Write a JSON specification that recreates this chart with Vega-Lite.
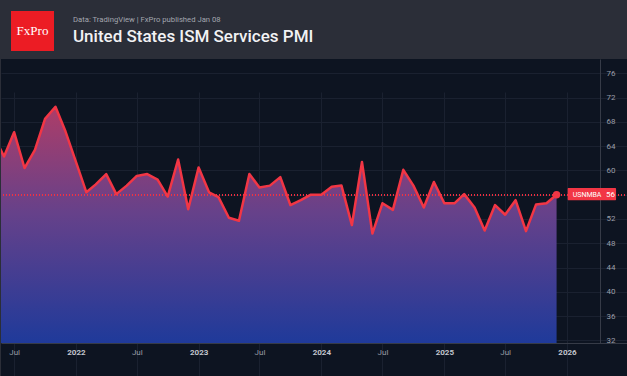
{
  "$schema": "https://vega.github.io/schema/vega-lite/v6.json",
  "background": "#2b2e38",
  "padding": {"top": 11, "left": 0, "right": 0, "bottom": 0},
  "bounds": "flush",
  "spacing": 48,
  "config": {"view": {"stroke": null}, "font": "Roboto", "axis": {"labelOverlap": false}, "axisY": {"labelOverlap": false}},
  "vconcat": [
    {
      "spacing": 0,
      "hconcat": [
        {"width": 10, "height": 40, "data": {"values": []}, "mark": "point"},
        {
          "width": 43,
          "height": 40,
          "view": {"fill": "#ec1c24", "stroke": null},
          "data": {"values": [{"logo": "FxPro"}]},
          "mark": {"type": "text", "font": "Liberation Serif", "fontSize": 13, "color": "#ffffff", "baseline": "middle", "align": "center"},
          "encoding": {"text": {"field": "logo"}}
        }
      ]
    },
    {
      "width": 627,
      "height": 317,
      "view": {"fill": "#0d1421", "stroke": null},
      "title": {
        "text": "Data: TradingView  |  FxPro published Jan 08",
        "subtitle": "United States ISM Services PMI",
        "anchor": "start",
        "orient": "top",
        "frame": "group",
        "dx": 72,
        "offset": 14,
        "font": "Roboto",
        "fontSize": 7.7,
        "fontWeight": "normal",
        "color": "#a3a6af",
        "subtitleFont": "Roboto",
        "subtitleFontSize": 17,
        "subtitleFontWeight": 500,
        "subtitleColor": "#f2f2f4",
        "subtitlePadding": 5
      },
      "data": {
        "values": [
          {"date": "2021-05-01", "value": 65.8},
          {"date": "2021-06-01", "value": 62.3},
          {"date": "2021-07-01", "value": 66.3},
          {"date": "2021-08-01", "value": 60.4},
          {"date": "2021-09-01", "value": 63.4},
          {"date": "2021-10-01", "value": 68.5},
          {"date": "2021-11-01", "value": 70.5},
          {"date": "2021-12-01", "value": 66.4},
          {"date": "2022-01-01", "value": 61.4},
          {"date": "2022-02-01", "value": 56.4},
          {"date": "2022-03-01", "value": 57.7},
          {"date": "2022-04-01", "value": 59.4},
          {"date": "2022-05-01", "value": 56.1},
          {"date": "2022-06-01", "value": 57.5},
          {"date": "2022-07-01", "value": 59.1},
          {"date": "2022-08-01", "value": 59.4},
          {"date": "2022-09-01", "value": 58.5},
          {"date": "2022-10-01", "value": 55.7},
          {"date": "2022-11-01", "value": 61.8},
          {"date": "2022-12-01", "value": 53.6},
          {"date": "2023-01-01", "value": 60.5},
          {"date": "2023-02-01", "value": 56.4},
          {"date": "2023-03-01", "value": 55.6},
          {"date": "2023-04-01", "value": 52.2},
          {"date": "2023-05-01", "value": 51.7},
          {"date": "2023-06-01", "value": 59.4},
          {"date": "2023-07-01", "value": 57.2},
          {"date": "2023-08-01", "value": 57.5},
          {"date": "2023-09-01", "value": 58.9},
          {"date": "2023-10-01", "value": 54.3},
          {"date": "2023-11-01", "value": 55.1},
          {"date": "2023-12-01", "value": 56.0},
          {"date": "2024-01-01", "value": 56.0},
          {"date": "2024-02-01", "value": 57.3},
          {"date": "2024-03-01", "value": 57.5},
          {"date": "2024-04-01", "value": 51.0},
          {"date": "2024-05-01", "value": 61.4},
          {"date": "2024-06-01", "value": 49.6},
          {"date": "2024-07-01", "value": 54.6},
          {"date": "2024-08-01", "value": 53.5},
          {"date": "2024-09-01", "value": 60.1},
          {"date": "2024-10-01", "value": 57.5},
          {"date": "2024-11-01", "value": 53.9},
          {"date": "2024-12-01", "value": 58.1},
          {"date": "2025-01-01", "value": 54.6},
          {"date": "2025-02-01", "value": 54.6},
          {"date": "2025-03-01", "value": 56.1},
          {"date": "2025-04-01", "value": 53.9},
          {"date": "2025-05-01", "value": 50.1},
          {"date": "2025-06-01", "value": 54.3},
          {"date": "2025-07-01", "value": 52.7},
          {"date": "2025-08-01", "value": 55.1},
          {"date": "2025-09-01", "value": 50.0},
          {"date": "2025-10-01", "value": 54.4},
          {"date": "2025-11-01", "value": 54.6},
          {"date": "2025-12-01", "value": 56.0}
        ]
      },
      "encoding": {
        "x": {
          "field": "date",
          "type": "temporal",
          "title": null,
          "scale": {
            "type": "utc",
            "domain": [
              {"year": 2021, "month": 5, "date": 23, "utc": true},
              {"year": 2026, "month": 7, "date": 1, "hours": 12, "utc": true}
            ],
            "range": [0, 627]
          },
          "axis": {
            "orient": "bottom",
            "offset": -33,
            "values": [
              {"year": 2021, "month": 7, "date": 1, "utc": true},
              {"year": 2022, "month": 1, "date": 1, "utc": true},
              {"year": 2022, "month": 7, "date": 1, "utc": true},
              {"year": 2023, "month": 1, "date": 1, "utc": true},
              {"year": 2023, "month": 7, "date": 1, "utc": true},
              {"year": 2024, "month": 1, "date": 1, "utc": true},
              {"year": 2024, "month": 7, "date": 1, "utc": true},
              {"year": 2025, "month": 1, "date": 1, "utc": true},
              {"year": 2025, "month": 7, "date": 1, "utc": true},
              {"year": 2026, "month": 1, "date": 1, "utc": true}
            ],
            "labelExpr": "utcmonth(datum.value) == 0 ? utcFormat(datum.value, '%Y') : 'Jul'",
            "labelFont": "Roboto",
            "labelFontSize": 8,
            "labelFontWeight": {"condition": {"test": "utcmonth(datum.value) == 0", "value": "bold"}, "value": "normal"},
            "labelColor": {"condition": {"test": "utcmonth(datum.value) == 0", "value": "#c3c6ce"}, "value": "#9a9ea8"},
            "labelPadding": 5,
            "labelFlush": false,
            "labelOverlap": false,
            "ticks": false,
            "domain": true,
            "domainColor": "#363b47",
            "grid": true,
            "gridColor": "#1a2130",
            "gridWidth": 1
          }
        },
        "y": {
          "field": "value",
          "type": "quantitative",
          "title": null,
          "scale": {"domain": [31.57, 78.36], "range": [284, 0], "nice": false, "zero": false},
          "axis": {
            "orient": "right",
            "offset": -28,
            "values": [32, 36, 40, 44, 48, 52, 56, 60, 64, 68, 72, 76],
            "labelFont": "Roboto",
            "labelFontSize": 8,
            "labelColor": "#9a9ea8",
            "labelAlign": "left",
            "labelPadding": 6,
            "labelOverlap": false,
            "labelSeparation": 0,
            "labelFlush": false,
            "ticks": false,
            "domain": true,
            "domainColor": "#363b47",
            "grid": true,
            "gridColor": "#1a2130"
          }
        }
      },
      "layer": [
        {
          "mark": {
            "type": "area",
            "clip": true,
            "fill": {
              "gradient": "linear",
              "x1": 0, "y1": 0, "x2": 0, "y2": 1,
              "stops": [
                {"offset": 0, "color": "#ad3d68"},
                {"offset": 0.45, "color": "#66418a"},
                {"offset": 1, "color": "#1f3a9a"}
              ]
            }
          },
          "encoding": {"y2": {"datum": 31.57}}
        },
        {
          "mark": {"type": "rule", "color": "#f23645", "opacity": 0.5, "strokeDash": [1, 2], "strokeWidth": 1},
          "encoding": {"y": {"datum": 56, "type": "quantitative"}, "x": null}
        },
        {
          "mark": {"type": "line", "clip": true, "color": "#f23645", "strokeWidth": 2.5, "strokeJoin": "round"},
          "encoding": {}
        },
        {
          "transform": [{"filter": "utcyear(datum.date) == 2025 && utcmonth(datum.date) == 11"}],
          "mark": {"type": "point", "filled": true, "color": "#f23645", "size": 55, "opacity": 1},
          "encoding": {}
        },
        {
          "transform": [{"filter": "utcyear(datum.date) == 2025 && utcmonth(datum.date) == 11"}],
          "mark": {"type": "rect", "color": "#f23645", "cornerRadius": 1},
          "encoding": {
            "x": {"datum": {"year": 2026, "month": 1, "date": 3, "utc": true}, "type": "temporal"},
            "x2": {"datum": {"year": 2026, "month": 5, "date": 27, "utc": true}},
            "y": {"datum": 57.1, "type": "quantitative"},
            "y2": {"datum": 55.1}
          }
        },
        {
          "transform": [{"filter": "utcyear(datum.date) == 2025 && utcmonth(datum.date) == 11"}],
          "mark": {"type": "text", "color": "#ffffff", "fontSize": 7, "font": "Roboto", "align": "left", "baseline": "middle"},
          "encoding": {
            "x": {"datum": {"year": 2026, "month": 1, "date": 18, "utc": true}, "type": "temporal"},
            "text": {"value": "USNMBA"}
          }
        },
        {
          "transform": [{"filter": "utcyear(datum.date) == 2025 && utcmonth(datum.date) == 11"}],
          "mark": {"type": "text", "color": "#ffffff", "fontSize": 8, "font": "Roboto", "align": "left", "baseline": "middle"},
          "encoding": {
            "x": {"datum": {"year": 2026, "month": 4, "date": 27, "utc": true}, "type": "temporal"},
            "text": {"field": "value", "type": "quantitative", "format": ".0f"}
          }
        }
      ]
    }
  ]
}
